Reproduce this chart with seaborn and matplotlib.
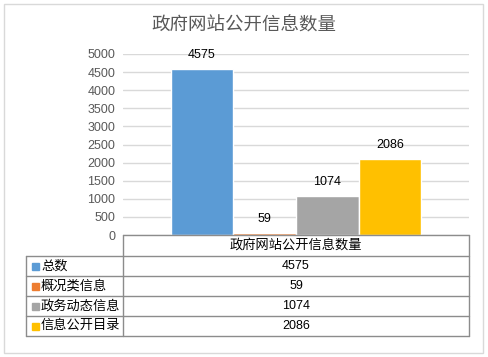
import pandas as pd
import seaborn as sns
import matplotlib.pyplot as plt
from matplotlib.patches import Rectangle

title = '政府网站公开信息数量'
series = ['总数', '概况类信息', '政务动态信息', '信息公开目录']
values = [4575, 59, 1074, 2086]
colors = ['#5b9bd5', '#ed7d31', '#a5a5a5', '#ffc000']

df = pd.DataFrame({'cat': [title] * 4, 'series': series, 'value': values})

sns.set_theme(style='white')
plt.rcParams['font.family'] = ['Liberation Sans', 'Noto Sans CJK SC', 'DejaVu Sans']

W, H = 489, 357
fig = plt.figure(figsize=(W / 100, H / 100), dpi=100)

# outer chart border
fig.patches.append(Rectangle((4 / W, 4 / H), 479 / W, 349 / H, transform=fig.transFigure,
                             fill=False, edgecolor='#d9d9d9', linewidth=1))

fig.text(244 / W, 1 - 26 / H, title, ha='center', va='center', fontsize=13.3, color='#595959')

ax = fig.add_axes([123 / W, 1 - 235 / H, 346 / W, 181 / H])
sns.barplot(data=df, x='cat', y='value', hue='series', palette=colors, width=0.725,
            dodge=True, legend=False, ax=ax, saturation=1)
ax.set_xlim(-0.5, 0.5)
ax.set_ylim(0, 5000)
ax.set_yticks(range(0, 5001, 500))
ax.yaxis.grid(True, color='#d9d9d9', linewidth=1)
ax.set_axisbelow(True)
for s in ax.spines.values():
    s.set_visible(False)
ax.set_xticks([])
ax.set_xlabel('')
ax.set_ylabel('')
ax.tick_params(axis='y', labelsize=9, labelcolor='#595959', length=0, pad=5.5)
for c in ax.containers:
    ax.bar_label(c, padding=6, fontsize=9, color='black')

# data table below the plot
line_c = '#8c8c8c'
left, x0, x1 = 26, 123, 469
rows_y = [235, 256, 276, 296, 316, 336]
tax = fig.add_axes([0, 0, 1, 1])
tax.set_xlim(0, W)
tax.set_ylim(H, 0)
tax.axis('off')
tax.patch.set_alpha(0)
tax.plot([x0, x1], [rows_y[0], rows_y[0]], color=line_c, lw=1)
tax.plot([x0, x0], [rows_y[0], rows_y[-1]], color=line_c, lw=1)
tax.plot([x1, x1], [rows_y[0], rows_y[-1]], color=line_c, lw=1)
tax.plot([left, left], [rows_y[1], rows_y[-1]], color=line_c, lw=1)
for yy in rows_y[1:]:
    tax.plot([left, x1], [yy, yy], color=line_c, lw=1)
tax.text((x0 + x1) / 2, (rows_y[0] + rows_y[1]) / 2, title, ha='center', va='center',
         fontsize=9.5, color='black')
for i, (name, v, col) in enumerate(zip(series, values, colors)):
    yc = (rows_y[i + 1] + rows_y[i + 2]) / 2
    tax.add_patch(Rectangle((32, yc - 3.5), 7, 7, color=col))
    tax.text(41, yc, name, ha='left', va='center', fontsize=9.5, color='black')
    tax.text((x0 + x1) / 2, yc, str(v), ha='center', va='center', fontsize=9, color='black')

fig.savefig('out.png', dpi=100)
